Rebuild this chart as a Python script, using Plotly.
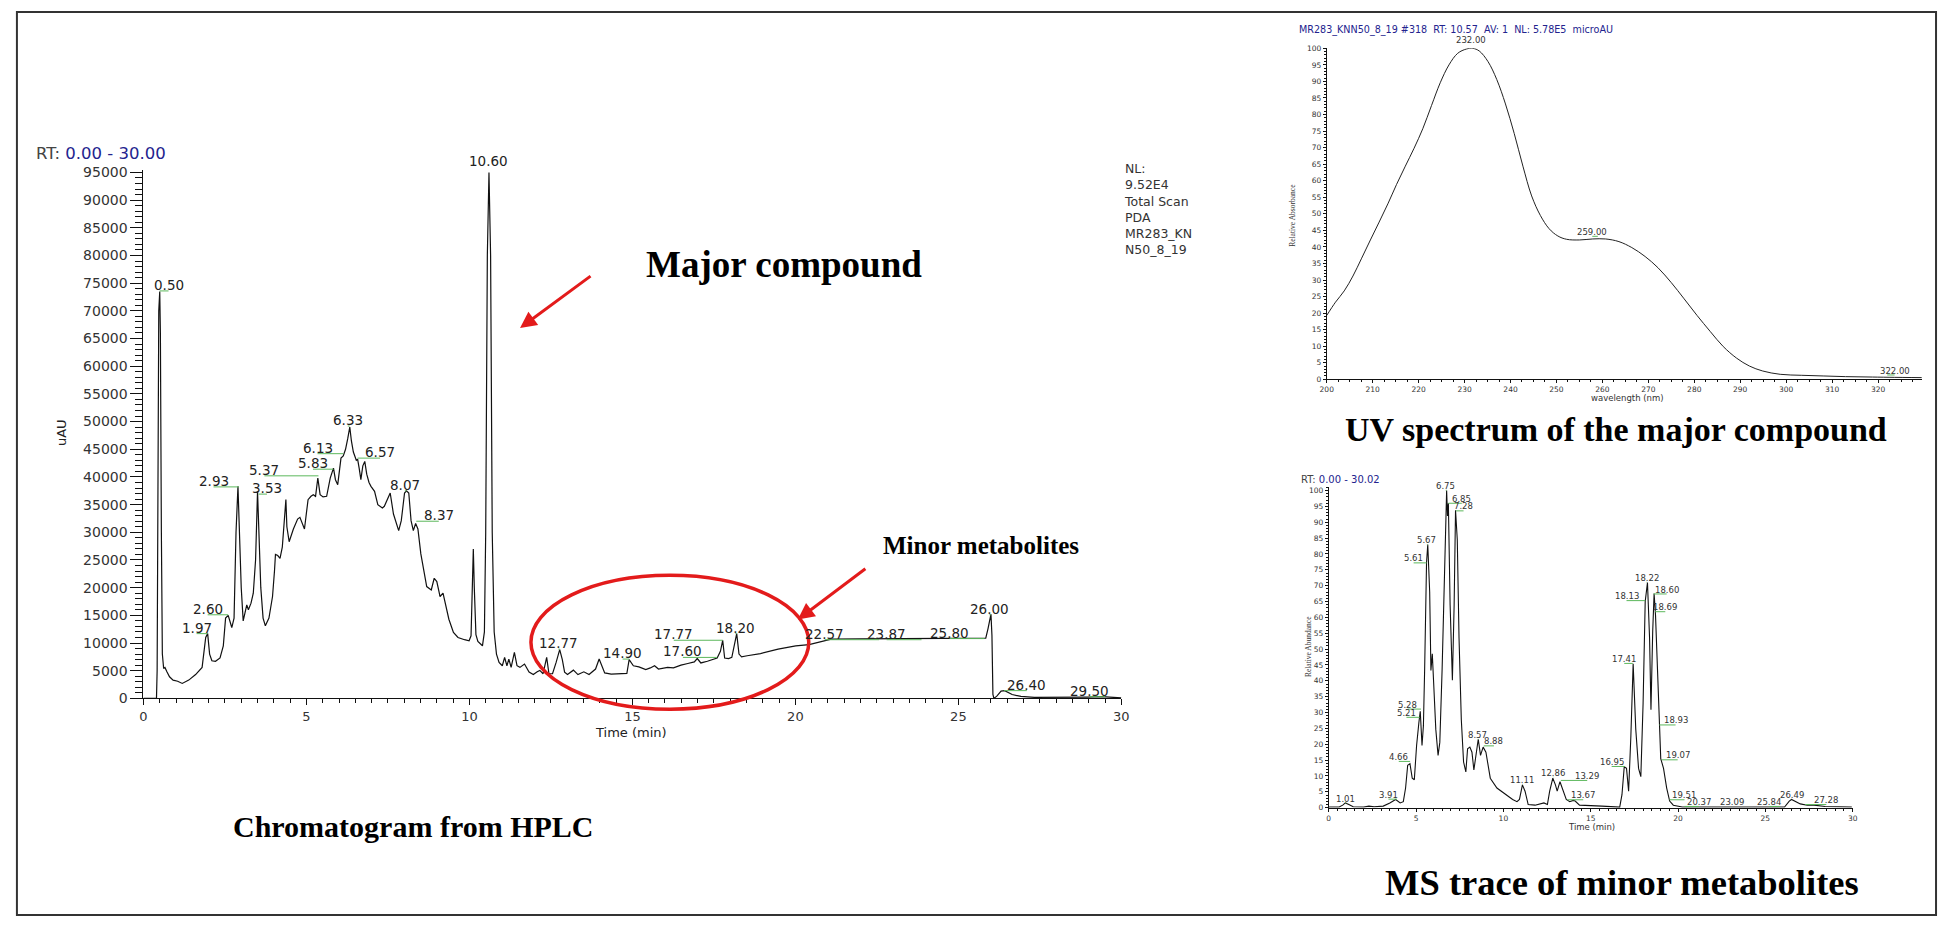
import plotly.graph_objects as go

W, H = 1948, 927

# ---------------- data ----------------
hplc_time = [0.00, 0.40, 0.42, 0.45, 0.47, 0.50, 0.52, 0.55, 0.58, 0.62, 0.66, 0.72, 0.80, 0.91, 1.05, 1.19, 1.39,
             1.60, 1.80, 1.91, 1.97, 2.03, 2.10, 2.21, 2.35, 2.45, 2.52, 2.60, 2.66, 2.71, 2.78, 2.84, 2.90, 2.95,
             3.00, 3.06, 3.13, 3.17, 3.22, 3.30, 3.37, 3.44, 3.50, 3.55, 3.60, 3.67, 3.74, 3.85, 3.96, 4.02, 4.05,
             4.12, 4.19, 4.26, 4.33, 4.37, 4.40, 4.47, 4.60, 4.73, 4.80, 4.87, 4.94, 5.00, 5.05, 5.14, 5.21, 5.28,
             5.35, 5.42, 5.51, 5.62, 5.73, 5.83, 5.89, 5.96, 6.06, 6.13, 6.20, 6.27, 6.33, 6.38, 6.44, 6.53, 6.57,
             6.62, 6.67, 6.73, 6.79, 6.85, 6.92, 6.98, 7.09, 7.19, 7.33, 7.39, 7.50, 7.57, 7.67, 7.78, 7.83, 7.91,
             8.01, 8.07, 8.14, 8.21, 8.28, 8.35, 8.42, 8.51, 8.58, 8.69, 8.83, 8.92, 9.00, 9.10, 9.19, 9.28, 9.37,
             9.51, 9.65, 9.85, 9.99, 10.05, 10.09, 10.12, 10.15, 10.20, 10.26, 10.33, 10.40, 10.46, 10.50, 10.55,
             10.60, 10.65, 10.70, 10.76, 10.83, 10.91, 11.01, 11.08, 11.15, 11.21, 11.28, 11.38, 11.46, 11.55,
             11.69, 11.83, 11.96, 12.08, 12.16, 12.26, 12.37, 12.44, 12.55, 12.66, 12.77, 12.85, 12.92, 13.01,
             13.19, 13.33, 13.51, 13.67, 13.87, 13.98, 14.05, 14.15, 14.35, 14.83, 14.90, 15.03, 15.20, 15.41,
             15.55, 15.68, 15.80, 16.08, 16.26, 16.49, 16.70, 16.90, 16.99, 17.10, 17.30, 17.44, 17.60, 17.70,
             17.77, 17.83, 17.95, 18.05, 18.12, 18.20, 18.27, 18.35, 18.52, 18.93, 19.47, 20.01, 20.42, 20.83,
             21.10, 22.00, 23.27, 24.62, 25.84, 25.91, 26.00, 26.03, 26.06, 26.09, 26.18, 26.31, 26.42, 26.65,
             26.92, 27.33, 28.20, 28.96, 29.40, 29.55, 30.00]
hplc_uau = [0, 0, 5000, 45000, 70000, 73500, 66000, 30000, 8000, 5400, 5600, 4800, 3900, 3300, 3100, 2700, 3300,
            4300, 5600, 11000, 11700, 8000, 6800, 6700, 7300, 9500, 14500, 15000, 13500, 12800, 14500, 30000, 38300,
            30000, 20000, 14000, 16000, 16900, 16000, 17200, 19000, 25000, 37400, 30000, 20000, 14500, 13100, 14500,
            18400, 23000, 26000, 25800, 25300, 27300, 33000, 35900, 31000, 28300, 30600, 32400, 32700, 31500, 30600,
            33500, 35900, 36500, 36800, 36500, 39800, 36800, 36400, 36500, 39800, 41600, 39500, 38600, 43400, 43800,
            45000, 47000, 49000, 46500, 44500, 43000, 43200, 41500, 39500, 42000, 42800, 40500, 39000, 38300, 37400,
            35000, 34400, 34700, 36200, 37100, 33300, 30900, 30300, 32100, 37100, 37500, 37100, 32100, 30300, 31600,
            30600, 26100, 23800, 20200, 19600, 21700, 21100, 18400, 19000, 16900, 14300, 11900, 11000, 10600, 10400,
            11300, 20000, 27000, 20000, 11500, 10300, 9800, 9500, 12000, 30000, 80000, 95000, 80000, 30000, 12000,
            8000, 6500, 5900, 7400, 5900, 7100, 5600, 8300, 5900, 5600, 6200, 4750, 4300, 4800, 5050, 4450, 7400,
            4450, 4450, 6500, 8800, 7000, 4750, 4300, 5100, 4300, 4800, 4300, 5300, 7100, 6000, 4600, 4400, 4500,
            7000, 5900, 5700, 5200, 5500, 5900, 5300, 5600, 5500, 6000, 6300, 6600, 7200, 6400, 6700, 6950, 7300,
            8500, 10500, 7300, 7200, 7400, 9500, 11700, 8000, 7500, 7700, 8100, 8900, 9500, 9700, 10300, 10700,
            10750, 10800, 10900, 10900, 12600, 15200, 11400, 700, 0, 400, 1300, 1400, 700, 350, 180, 150, 240, 300,
            250, 100]

hplc_labels = ["0.50", "1.97", "2.60", "2.93", "3.53", "5.37", "5.83", "6.13", "6.33", "6.57", "8.07", "8.37",
               "10.60", "12.77", "14.90", "17.60", "17.77", "18.20", "22.57", "23.87", "25.80", "26.00", "26.40",
               "29.50"]
hplc_label_t = [0.77, 1.63, 1.97, 2.15, 3.79, 3.71, 5.20, 5.34, 6.27, 7.26, 8.02, 9.06,
                10.60, 12.73, 14.70, 16.55, 16.27, 18.16, 20.90, 22.80, 24.73, 25.95, 27.10, 29.03]
hplc_label_v = [74700, 12800, 16200, 39300, 38000, 41300, 42500, 45300, 50300, 44500, 38600, 33100,
                97000, 10000, 8200, 8500, 11600, 12800, 11700, 11700, 11900, 16200, 2500, 1400]

hplc_xticks = [0, 5, 10, 15, 20, 25, 30]
hplc_yticks = list(range(0, 95001, 5000))

uv_wavelength = [200, 201.9, 203.8, 205.7, 207.6, 209.5, 211.4, 213.3, 215.2, 217.1, 219.0, 220.9, 222.8, 224.7,
                 226.6, 228.5, 230.4, 231.8, 233.2, 235.1, 237.0, 238.9, 240.8, 242.7, 244.6, 246.5, 248.4, 250.3,
                 252.2, 255.0, 257.9, 260.7, 263.6, 266.4, 269.3, 272.1, 275.0, 277.8, 280.6, 283.5, 286.3, 289.2,
                 292.0, 294.9, 298.7, 303.4, 308.2, 312.9, 317.6, 322.4, 329.5]
uv_absorbance = [19.3, 23.3, 26.7, 31.2, 36.6, 42.1, 47.5, 53.0, 58.9, 64.4, 69.8, 75.7, 82.7, 89.6,
                 95.0, 98.5, 99.8, 100.0, 99.2, 96.0, 90.6, 83.2, 74.3, 64.4, 55.4, 49.5, 45.5, 43.3,
                 42.3, 42.1, 42.4, 42.4, 41.6, 39.8, 37.1, 33.7, 29.2, 24.3, 19.3, 14.4, 9.9, 6.4,
                 4.0, 2.5, 1.5, 1.2, 1.0, 0.8, 0.7, 0.6, 0.5]
uv_labels = ["232.00", "259.00", "322.00"]
uv_label_x = [231.5, 257.8, 323.6]
uv_label_v = [102.5, 44.5, 2.6]
uv_xticks = list(range(200, 321, 10))
uv_yticks = list(range(0, 101, 5))

ms_time = [0.00, 0.60, 0.80, 0.95, 1.15, 1.40, 2.00, 2.30, 2.60, 3.12, 3.50, 3.83, 4.09, 4.27, 4.40, 4.52, 4.65,
           4.78, 4.90, 5.03, 5.16, 5.24, 5.34, 5.42, 5.49, 5.60, 5.67, 5.78, 5.85, 5.93, 6.00, 6.13, 6.26, 6.36,
           6.49, 6.62, 6.75, 6.80, 6.85, 6.95, 7.08, 7.18, 7.26, 7.36, 7.46, 7.59, 7.72, 7.85, 7.95, 8.08, 8.20,
           8.31, 8.43, 8.56, 8.69, 8.84, 9.00, 9.25, 9.63, 10.15, 10.53, 10.78, 10.92, 11.09, 11.24, 11.42, 11.81,
           12.32, 12.52, 12.65, 12.83, 12.98, 13.08, 13.24, 13.42, 13.60, 13.80, 14.00, 14.11, 14.36, 15.64,
           16.66, 16.79, 16.92, 17.05, 17.17, 17.30, 17.43, 17.58, 17.74, 17.87, 18.00, 18.12, 18.25, 18.37,
           18.45, 18.55, 18.63, 18.71, 18.81, 18.91, 19.01, 19.17, 19.35, 19.52, 19.73, 20.24, 26.10, 26.37,
           26.50, 27.00, 27.40, 27.78, 28.42, 29.95]
ms_abundance = [0.2, 0.2, 0.8, 1.5, 1.0, 0.3, 0.2, 0.5, 0.3, 0.5, 1.5, 2.6, 1.5, 1.9, 6.2, 13.4, 13.9,
                9.3, 8.8, 19.6, 26.8, 30.4, 19.6, 25.8, 43.3, 77.3, 83.0, 68.0, 43.3, 48.5, 40.2, 24.7, 16.5, 20.6,
                43.3, 74.2, 100.0, 92.0, 96.0, 63.9, 40.2, 63.9, 93.8, 84.5, 53.6, 27.8, 14.4, 11.3, 18.6, 19.1, 17.5,
                11.9, 17.5, 21.6, 16.5, 19.1, 17.5, 9.3, 6.2, 4.1, 2.6, 1.9, 2.6, 7.2, 5.2, 1.0, 0.8,
                1.5, 1.0, 5.2, 9.3, 7.2, 5.2, 8.2, 5.2, 2.6, 1.9, 2.3, 2.1, 0.8, 0.5,
                0.2, 4.1, 12.9, 12.4, 5.2, 22.7, 45.4, 24.7, 12.4, 9.8, 33.0, 65.0, 71.0, 53.6,
                30.9, 55.7, 67.5, 60.8, 43.3, 25.8, 15.5, 12.4, 6.2, 2.1, 0.8, 0.2, 0.2, 2.1,
                2.6, 1.2, 0.8, 0.8, 0.4, 0.2]
ms_labels = ["1.01", "3.91", "4.66", "5.21", "5.28", "5.61", "5.67", "6.75", "6.85", "7.28", "8.57", "8.88",
             "11.11", "12.86", "13.29", "13.67", "16.95", "17.41", "18.13", "18.22", "18.60", "18.69", "18.93",
             "19.07", "19.51", "20.37", "23.09", "25.84", "26.49", "27.28"]
ms_label_t = [0.95, 3.42, 4.01, 4.45, 4.52, 4.86, 5.62, 6.70, 7.62, 7.72, 8.54, 9.46,
              11.09, 12.83, 14.80, 14.57, 16.20, 16.92, 17.05, 18.20, 19.35, 19.27, 19.86,
              19.98, 20.37, 21.19, 23.10, 25.22, 26.50, 28.49]
ms_label_v = [2.9, 4.1, 16.0, 29.9, 32.5, 78.6, 84.3, 101.5, 97.4, 95.0, 23.0, 20.9,
              8.8, 11.1, 10.0, 3.9, 14.4, 46.9, 66.7, 72.5, 68.8, 63.2, 27.5,
              16.5, 3.9, 1.8, 1.8, 1.8, 4.1, 2.4]
ms_xticks = [0, 5, 10, 15, 20, 25, 30]
ms_yticks = list(range(0, 101, 5))


# ---------------- helpers ----------------
def px(x):
    return x / W


def py(y):
    return 1 - y / H


TICKFONT = "DejaVu Sans"
SERIF = "Liberation Serif"
GREEN = "#5cb85c"
NAVY = "#23238e"

MAIN_YMAX = 95400
UV_YMAX = 100
MS_YMAX = 101


def green_segments(labels, lt, lv, off):
    xs, ys = [], []
    for txt, t, v in zip(labels, lt, lv):
        pk = float(txt)
        xs += [pk, t, None]
        ys += [v - off, v - off, None]
    return xs, ys


fig = go.Figure()

fig.add_trace(go.Scatter(x=hplc_time, y=hplc_uau, mode="lines", line=dict(color="#111", width=1.2),
                         xaxis="x", yaxis="y", hoverinfo="skip"))
gx, gy = green_segments(hplc_labels, hplc_label_t, hplc_label_v, 1100)
fig.add_trace(go.Scatter(x=gx, y=gy, mode="lines", line=dict(color=GREEN, width=1), xaxis="x", yaxis="y",
                         hoverinfo="skip", cliponaxis=False))

fig.add_trace(go.Scatter(x=uv_wavelength, y=uv_absorbance, mode="lines",
                         line=dict(color="#222", width=1, shape="spline"), xaxis="x2", yaxis="y2",
                         hoverinfo="skip"))
gx, gy = green_segments(uv_labels[1:], uv_label_x[1:], uv_label_v[1:], 1.3)
fig.add_trace(go.Scatter(x=gx, y=gy, mode="lines", line=dict(color=GREEN, width=1), xaxis="x2", yaxis="y2",
                         hoverinfo="skip"))

fig.add_trace(go.Scatter(x=ms_time, y=ms_abundance, mode="lines", line=dict(color="#111", width=1.1),
                         xaxis="x3", yaxis="y3", hoverinfo="skip"))
gx, gy = green_segments(ms_labels, ms_label_t, ms_label_v, 1.4)
fig.add_trace(go.Scatter(x=gx, y=gy, mode="lines", line=dict(color=GREEN, width=1), xaxis="x3", yaxis="y3",
                         hoverinfo="skip"))


def axis(domain, rng, tickvals, ticklen, mticklen, mdtick, fs, anchor):
    return dict(domain=domain, range=rng, tickmode="array", tickvals=tickvals,
                ticktext=[str(v) for v in tickvals], ticks="outside", ticklen=ticklen, tickwidth=1,
                tickcolor="#111", showline=True, linecolor="#111", linewidth=1, showgrid=False, zeroline=False,
                tickfont=dict(family=TICKFONT, size=fs, color="#333"), anchor=anchor, fixedrange=True,
                minor=dict(ticks="outside", ticklen=mticklen, tickwidth=1, tickcolor="#111", dtick=mdtick,
                           tick0=0, showgrid=False))


main_top = 169 - (MAIN_YMAX - 95000) * 534 / 95000
ms_y0, ms_y100 = 814, 492
ms_top = ms_y100 - (MS_YMAX - 100) * (ms_y0 - ms_y100) / 100
fig.update_layout(
    width=W, height=H, margin=dict(l=0, r=0, t=0, b=0), autosize=False,
    paper_bgcolor="white", plot_bgcolor="white", showlegend=False,
    xaxis=axis([px(137.5), px(1123)], [0, 30], hplc_xticks, 6, 4, 0.5, 13, "y"),
    yaxis=axis([py(703), py(main_top)], [0, MAIN_YMAX], hplc_yticks, 12, 7, 1000, 14, "x"),
    xaxis2=axis([px(1330), px(1930)], [200, 329.6], uv_xticks, 3, 2, 2.5, 7.5, "y2"),
    yaxis2=axis([py(379), py(43)], [0, UV_YMAX], uv_yticks, 3, 2, 1, 7.5, "x2"),
    xaxis3=axis([px(1332), px(1860)], [0, 30], ms_xticks, 3, 2, 0.5, 7.5, "y3"),
    yaxis3=axis([py(ms_y0), py(ms_top)], [0, MS_YMAX], ms_yticks, 3, 2, 1, 7.5, "x3"),
)


def pa(x, y, text, size, color="#222", family=TICKFONT, xa="center", ya="middle", angle=0, align="center"):
    return dict(x=px(x), y=py(y), xref="paper", yref="paper", xanchor=xa, yanchor=ya, showarrow=False,
                text=text, textangle=angle, align=align, font=dict(family=family, size=size, color=color))


ann = []
for txt, t, v in zip(hplc_labels, hplc_label_t, hplc_label_v):
    ann.append(dict(x=t, y=v / MAIN_YMAX, xref="x", yref="y domain", text=txt, showarrow=False,
                    xanchor="center", yanchor="middle", font=dict(family=TICKFONT, size=13.5, color="#222")))
for txt, t, v in zip(uv_labels, uv_label_x, uv_label_v):
    ann.append(dict(x=t, y=v / UV_YMAX, xref="x2", yref="y2 domain", text=txt, showarrow=False,
                    xanchor="center", yanchor="middle", font=dict(family=TICKFONT, size=8.5, color="#333")))
for txt, t, v in zip(ms_labels, ms_label_t, ms_label_v):
    ann.append(dict(x=t, y=v / MS_YMAX, xref="x3", yref="y3 domain", text=txt, showarrow=False,
                    xanchor="center", yanchor="middle", font=dict(family=TICKFONT, size=8.5, color="#333")))

ann += [
    pa(27, 150, '<span style="color:#444">RT:</span> <span style="color:%s">0.00 - 30.00</span>' % NAVY, 16.5,
       xa="left"),
    pa(55, 433, "uAU", 13, angle=-90),
    pa(629, 738, "Time (min)", 13),
    pa(1124, 155, "NL:<br>9.52E4<br>Total Scan<br>PDA<br>MR283_KN<br>N50_8_19", 12.5, color="#333",
       xa="left", ya="top", align="left"),
    pa(1300, 24, "MR283_KNN50_8_19 #318  RT: 10.57  AV: 1  NL: 5.78E5  microAU", 9.6, color=NAVY, xa="left"),
    pa(1296, 213, "Relative Absorbance", 7.5, color="#333", family="Liberation Sans Narrow", angle=-90),
    pa(1633, 398, "wavelength (nm)", 8.5, color="#333"),
    pa(1302, 481, '<span style="color:#444">RT:</span> <span style="color:%s">0.00 - 30.02</span>' % NAVY, 10,
       xa="left"),
    pa(1311, 650, "Relative Abundance", 7.5, color="#333", family="Liberation Sans Narrow", angle=-90),
    pa(1597, 834, "Time (min)", 8.5, color="#333"),
    pa(783, 262, "<b>Major compound</b>", 37, color="#000", family=SERIF),
    pa(982, 548, "<b>Minor metabolites</b>", 25, color="#000", family=SERIF),
    pa(410, 833, "<b>Chromatogram from HPLC</b>", 30, color="#000", family=SERIF),
    pa(1621, 430, "<b>UV spectrum of the major compound</b>", 34, color="#000", family=SERIF),
    pa(1628, 890, "<b>MS trace of minor metabolites</b>", 36.5, color="#000", family=SERIF),
    dict(x=px(517), y=py(327), xref="paper", yref="paper", ax=72, ay=-53, showarrow=True, text="",
         arrowhead=2, arrowsize=1.1, arrowwidth=3, arrowcolor="#e31b1b"),
    dict(x=px(797), y=py(623), xref="paper", yref="paper", ax=69, ay=-52, showarrow=True, text="",
         arrowhead=2, arrowsize=1.1, arrowwidth=3, arrowcolor="#e31b1b"),
]
fig.update_layout(annotations=ann)

fig.update_layout(shapes=[
    dict(type="circle", xref="paper", yref="paper", x0=px(528), x1=px(808), y0=py(714), y1=py(578),
         line=dict(color="#e31b1b", width=3.5)),
    dict(type="rect", xref="paper", yref="paper", x0=px(10), x1=px(1944), y0=py(923), y1=py(6),
         line=dict(color="#333", width=2)),
])

fig.write_html("out.html")
